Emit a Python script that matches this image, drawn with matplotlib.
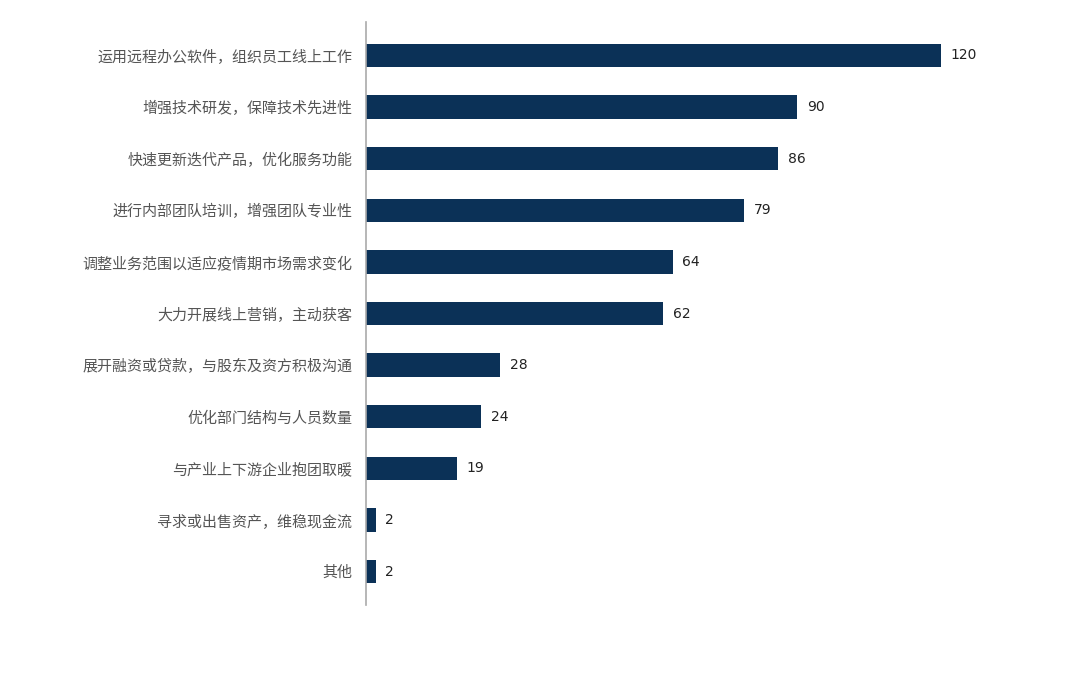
import matplotlib
matplotlib.use("Agg")
import matplotlib.pyplot as plt

plt.rcParams['font.family'] = ['Noto Sans CJK SC', 'DejaVu Sans']

categories = [
    "运用远程办公软件，组织员工线上工作",
    "增强技术研发，保障技术先进性",
    "快速更新迭代产品，优化服务功能",
    "进行内部团队培训，增强团队专业性",
    "调整业务范围以适应疫情期市场需求变化",
    "大力开展线上营销，主动获客",
    "展开融资或贷款，与股东及资方积极沟通",
    "优化部门结构与人员数量",
    "与产业上下游企业抱团取暖",
    "寻求或出售资产，维稳现金流",
    "其他",
]
values = [120, 90, 86, 79, 64, 62, 28, 24, 19, 2, 2]

fig = plt.figure(figsize=(10.8, 6.86), dpi=100)
ax = fig.add_axes([0.339, 0.118, 0.643, 0.850])

ypos = list(range(len(categories)))
ax.barh(ypos, values, height=0.45, color="#0b3157")
ax.set_ylim(len(categories) - 0.35, -0.65)
ax.set_xlim(0, 145)

ax.set_yticks(ypos)
ax.set_yticklabels(categories, fontsize=10.8, color="#555555")
ax.tick_params(axis="y", length=0, pad=10)
ax.set_xticks([])

for s in ["top", "right", "bottom"]:
    ax.spines[s].set_visible(False)
ax.spines["left"].set_color("#aaaaaa")
ax.spines["left"].set_linewidth(1.2)

for y, v in zip(ypos, values):
    ax.annotate(str(v), (v, y), xytext=(7, 0), textcoords="offset points",
                va="center", ha="left", fontsize=10, color="#222222",
                family="DejaVu Sans")

fig.savefig("out.png", dpi=100)
